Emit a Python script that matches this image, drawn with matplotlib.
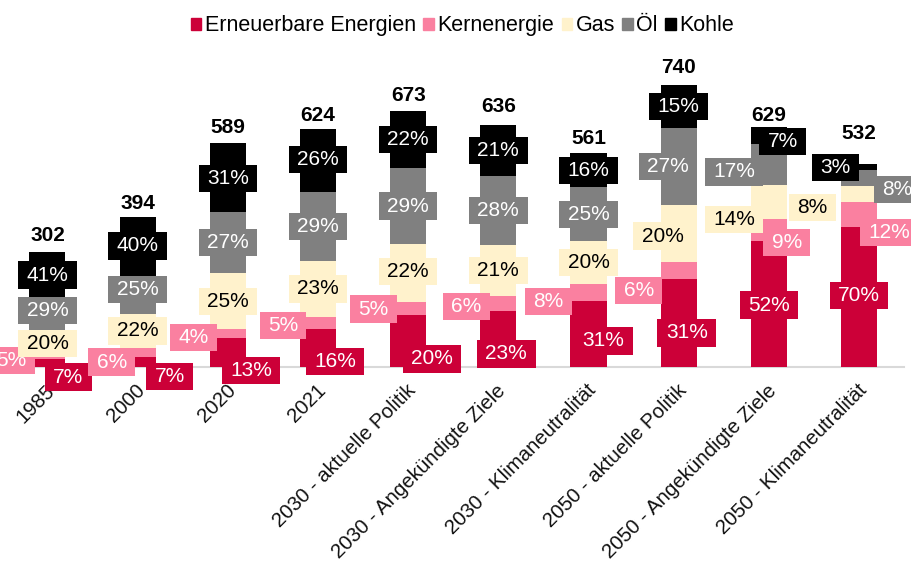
import numpy as np
import matplotlib
matplotlib.use('Agg')
import matplotlib.pyplot as plt
import matplotlib.transforms as mtrans
from matplotlib.patches import Patch
from matplotlib.path import Path

plt.rcParams['font.family'] = ['Liberation Sans', 'DejaVu Sans']

categories = ['1985', '2000', '2020', '2021', '2030 - aktuelle Politik',
              '2030 - Angekündigte Ziele', '2030 - Klimaneutralität',
              '2050 - aktuelle Politik', '2050 - Angekündigte Ziele',
              '2050 - Klimaneutralität']
totals = [302, 394, 589, 624, 673, 636, 561, 740, 629, 532]
sources = ['Erneuerbare Energien', 'Kernenergie', 'Gas', 'Öl', 'Kohle']
ern = [7, 7, 13, 16, 20, 23, 31, 31, 52, 70]
kern = [5, 6, 4, 5, 5, 6, 8, 6, 9, 12]
gas = [20, 22, 25, 23, 22, 21, 20, 20, 14, 8]
oel = [29, 25, 27, 29, 29, 28, 25, 27, 17, 8]
kohle = [41, 40, 31, 26, 22, 21, 16, 15, 7, 3]

colors = ['#cc0038', '#fa80a0', '#fff2cc', '#808080', '#000000']
txt_colors = ['white', 'white', 'black', 'white', 'white']

# manual label offsets (pixels, x right / y down) like in the original
ern_off = [(21, 14), (32, 15), (23, 18), (17, 14), (24, 18), (8, 15), (15, 7), (8, 10), (0, 1), (0, -1)]
kern_off = [(-36, 4), (-26, 10), (-34, 4), (-35, 3), (-35, 1), (-32, 3), (-40, 9), (-40, 20), (18, 12), (30, 18)]
gas_off = [(0, 1), (0, 0), (0, 1), (0, 0), (0, -1), (0, 0), (0, 0), (-16, 3), (-35, 17), (-47, 13)]
oel_off = [(0, -4), (0, -6), (0, 0), (0, 0), (0, 0), (0, 0), (0, 0), (-11, 0), (-35, 7), (38, 11)]
kohle_off = [(0, 0), (0, -1), (0, 1), (0, -1), (0, 0), (0, 0), (0, 0), (0, 0), (14, 6), (-24, 0)]
total_off = [16, 13, 15, 14, 15, 18, 15, 18, 12, 31]


def label_box(x0, y0, width, height, mutation_size):
    # wider than tall padding, like the excel data labels
    px = 0.4 * mutation_size
    py = 0.2 * mutation_size
    return Path([(x0 - px, y0 - py), (x0 + width + px, y0 - py),
                 (x0 + width + px, y0 + height + py), (x0 - px, y0 + height + py),
                 (x0 - px, y0 - py)], closed=True)


pcts = np.array([ern, kern, gas, oel, kohle], dtype=float)
offsets = [ern_off, kern_off, gas_off, oel_off, kohle_off]
tot = np.array(totals, dtype=float)
heights = pcts / pcts.sum(axis=0) * tot

fig = plt.figure(figsize=(9.12, 5.67), dpi=100)
ax = fig.add_axes([0.0026, 0.3527, 0.9888, 0.5376])
x = np.arange(len(categories))

bottom = np.zeros(len(categories))
for k in range(5):
    ax.bar(x, heights[k], 0.4, bottom=bottom, color=colors[k], zorder=2)
    bottom += heights[k]

bottom = np.zeros(len(categories))
for k in range(5):
    for i in range(len(categories)):
        yc = bottom[i] + heights[k][i] / 2
        dx, dy = offsets[k][i]
        ax.annotate('%d%%' % pcts[k][i], (x[i], yc), xytext=(dx, -dy),
                    textcoords='offset pixels', ha='center', va='center',
                    fontsize=15, color=txt_colors[k], zorder=3 + k,
                    bbox=dict(boxstyle=label_box, fc=colors[k], lw=0),
                    annotation_clip=False)
    bottom += heights[k]

for i in range(len(categories)):
    ax.annotate(str(totals[i]), (x[i], tot[i]), xytext=(0, total_off[i]),
                textcoords='offset pixels', ha='center', va='center',
                fontsize=15, fontweight='bold', zorder=10)

ax.set_xlim(-0.5, len(categories) - 0.5)
ax.set_ylim(0, 800)
ax.set_yticks([])
ax.set_xticks(x)
ax.set_xticklabels(categories, rotation=45, ha='right', rotation_mode='anchor',
                   fontsize=14.7, color='#111111')
ax.tick_params(axis='x', length=0, pad=10)
shift = mtrans.ScaledTranslation(-2 / 100, 0, fig.dpi_scale_trans)
for lbl in ax.get_xticklabels():
    lbl.set_transform(lbl.get_transform() + shift)
for s in ['top', 'right', 'left']:
    ax.spines[s].set_visible(False)
ax.spines['bottom'].set_color('#d9d9d9')
ax.spines['bottom'].set_linewidth(1.5)
ax.spines['bottom'].set_zorder(1)

handles = [Patch(color=c) for c in colors]
fig.legend(handles, sources, loc='upper center', bbox_to_anchor=(0.507, 1.007),
           ncol=5, frameon=False, fontsize=15.5, handlelength=0.5, handleheight=0.5,
           handletextpad=0.15, columnspacing=0.35)

fig.savefig('out.png', dpi=100)
